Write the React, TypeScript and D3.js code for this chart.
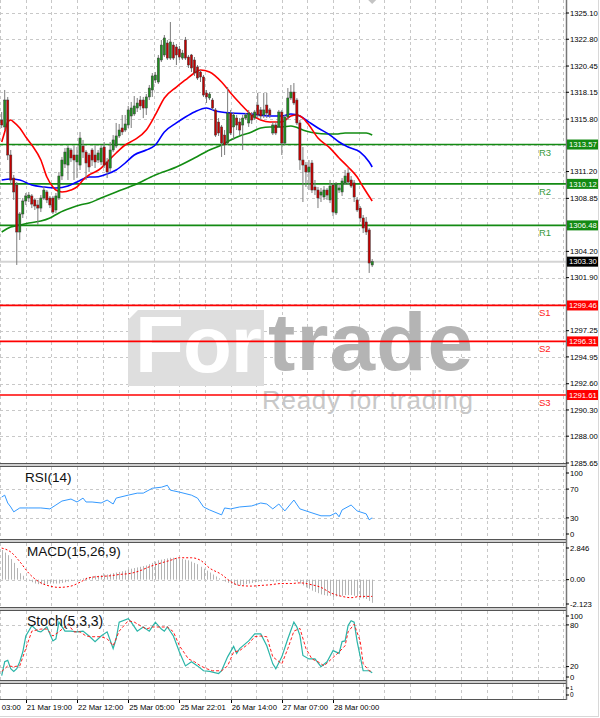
import React from 'react';
import * as d3 from 'd3';

const FONT = '"Liberation Sans", Arial, sans-serif';

// hourly bars: [open, high, low, close]
const candles: [number, number, number, number][] = [
  [1315.72, 1316.42, 1315.02, 1315.28], [1315.11, 1318.35, 1314.84, 1317.47], [1317.47, 1317.74, 1312.21, 1312.65],
  [1312.65, 1313.09, 1310.02, 1310.46], [1310.63, 1310.90, 1308.71, 1309.41], [1310.02, 1310.28, 1303.01, 1305.90],
  [1305.90, 1307.65, 1305.20, 1307.48], [1307.48, 1308.88, 1307.13, 1308.62], [1308.62, 1309.32, 1308.27, 1309.06],
  [1308.88, 1309.41, 1308.53, 1309.14], [1309.06, 1309.23, 1308.00, 1308.35], [1308.71, 1308.88, 1307.83, 1308.18],
  [1308.27, 1308.71, 1306.51, 1308.00], [1308.00, 1309.14, 1307.65, 1308.88], [1308.88, 1309.93, 1308.71, 1309.58],
  [1309.41, 1309.58, 1308.44, 1308.71], [1308.88, 1309.06, 1308.00, 1308.27], [1308.88, 1309.06, 1307.48, 1307.65],
  [1307.83, 1309.32, 1307.57, 1309.06], [1308.88, 1311.16, 1308.71, 1310.81], [1310.81, 1312.48, 1310.46, 1312.21],
  [1311.86, 1313.26, 1311.51, 1312.91], [1311.77, 1313.44, 1310.46, 1313.26], [1313.09, 1313.26, 1312.04, 1312.39],
  [1312.65, 1313.44, 1310.46, 1312.21], [1312.04, 1313.35, 1310.63, 1312.65], [1311.77, 1314.67, 1311.34, 1314.14],
  [1313.44, 1313.97, 1312.39, 1312.91], [1312.91, 1313.09, 1310.46, 1311.95], [1312.65, 1312.83, 1311.16, 1311.60],
  [1313.09, 1313.26, 1311.69, 1312.21], [1312.65, 1313.53, 1311.51, 1312.04], [1312.21, 1313.09, 1311.95, 1312.83],
  [1312.04, 1313.53, 1311.77, 1313.26], [1313.35, 1313.79, 1311.51, 1311.77], [1312.04, 1312.39, 1310.63, 1311.16],
  [1311.51, 1313.79, 1311.16, 1313.09], [1313.09, 1314.40, 1312.91, 1313.97], [1313.44, 1315.46, 1313.26, 1314.32],
  [1314.32, 1315.37, 1314.14, 1314.84], [1315.02, 1316.16, 1314.40, 1314.67], [1314.84, 1316.16, 1314.67, 1315.37],
  [1315.28, 1316.95, 1315.02, 1316.60], [1316.07, 1317.30, 1315.02, 1316.77], [1316.25, 1317.82, 1316.07, 1316.95],
  [1316.77, 1317.65, 1316.42, 1317.21], [1317.47, 1317.82, 1316.60, 1316.95], [1317.47, 1317.74, 1315.89, 1316.77],
  [1316.77, 1318.00, 1316.16, 1317.74], [1317.74, 1318.79, 1317.47, 1318.52], [1318.35, 1319.84, 1317.74, 1319.58],
  [1319.23, 1319.93, 1318.96, 1319.66], [1319.05, 1321.42, 1318.88, 1321.15], [1320.98, 1322.73, 1320.80, 1322.29],
  [1321.42, 1323.17, 1321.24, 1322.91], [1322.47, 1322.73, 1320.98, 1321.15], [1321.15, 1324.31, 1320.98, 1322.56],
  [1322.29, 1322.56, 1320.98, 1321.15], [1322.12, 1322.38, 1320.54, 1321.42], [1321.94, 1322.21, 1320.98, 1321.24],
  [1321.15, 1321.86, 1320.98, 1321.59], [1322.73, 1323.00, 1320.98, 1321.15], [1321.24, 1321.42, 1320.28, 1320.54],
  [1321.42, 1321.51, 1319.93, 1320.28], [1320.98, 1321.24, 1319.58, 1319.84], [1320.37, 1320.54, 1319.23, 1319.40],
  [1319.93, 1320.10, 1319.05, 1319.49], [1319.49, 1319.66, 1317.74, 1317.91], [1318.09, 1318.35, 1317.21, 1317.74],
  [1317.65, 1318.17, 1317.47, 1318.00], [1317.47, 1317.65, 1316.60, 1316.77], [1316.60, 1316.77, 1314.23, 1314.40],
  [1315.54, 1315.89, 1314.32, 1314.58], [1315.11, 1315.28, 1312.48, 1313.70], [1314.40, 1314.84, 1312.65, 1313.53],
  [1313.70, 1318.61, 1313.53, 1316.33], [1316.33, 1316.60, 1314.40, 1314.58], [1315.11, 1316.42, 1313.97, 1316.16],
  [1315.89, 1316.16, 1314.84, 1315.28], [1315.54, 1315.89, 1314.40, 1314.84], [1315.28, 1316.16, 1313.09, 1315.89],
  [1315.89, 1316.33, 1315.72, 1316.16], [1315.46, 1316.60, 1315.11, 1316.33], [1316.16, 1316.42, 1315.37, 1315.72],
  [1315.89, 1316.60, 1315.72, 1316.42], [1317.03, 1318.09, 1315.89, 1316.16], [1316.60, 1316.86, 1315.72, 1316.07],
  [1316.16, 1318.09, 1315.89, 1316.60], [1317.03, 1318.09, 1315.89, 1316.33], [1316.60, 1316.77, 1315.89, 1316.16],
  [1314.58, 1315.54, 1314.40, 1315.28], [1315.28, 1315.54, 1314.40, 1314.58], [1315.11, 1316.60, 1315.02, 1316.42],
  [1316.42, 1316.60, 1312.65, 1313.70], [1313.70, 1316.16, 1313.53, 1315.98], [1315.98, 1318.52, 1315.72, 1317.65],
  [1317.65, 1318.79, 1317.47, 1318.17], [1318.17, 1318.96, 1317.03, 1317.21], [1317.47, 1317.65, 1315.28, 1315.46],
  [1315.46, 1315.72, 1311.34, 1312.21], [1312.21, 1313.35, 1308.53, 1311.77], [1311.77, 1312.04, 1309.85, 1311.16],
  [1311.16, 1312.21, 1309.58, 1311.60], [1311.95, 1312.21, 1309.32, 1309.58], [1309.85, 1310.46, 1309.14, 1309.58],
  [1309.58, 1309.85, 1308.00, 1308.88], [1309.14, 1309.76, 1308.53, 1309.41], [1308.97, 1309.93, 1308.71, 1309.58],
  [1309.58, 1309.76, 1308.71, 1309.14], [1308.71, 1310.46, 1308.44, 1309.93], [1310.02, 1310.20, 1307.30, 1307.65],
  [1307.57, 1310.28, 1307.39, 1310.11], [1309.58, 1310.02, 1309.32, 1309.76], [1309.41, 1310.63, 1309.06, 1310.37],
  [1310.20, 1311.34, 1310.02, 1310.81], [1311.07, 1311.51, 1310.02, 1310.28], [1310.46, 1310.81, 1309.76, 1309.93],
  [1310.20, 1310.46, 1308.53, 1308.97], [1308.71, 1308.97, 1307.65, 1307.83], [1308.00, 1308.18, 1306.78, 1307.13],
  [1307.13, 1307.39, 1305.81, 1306.25], [1306.78, 1307.22, 1305.64, 1305.90], [1306.08, 1306.25, 1302.31, 1303.18],
  [1303.01, 1303.53, 1302.83, 1303.30],
];

// moving averages, read at [bar index, price]
const maFast: [number, number][] = [
  [0, 1313.79], [1, 1314.67], [2, 1315.54], [3, 1315.72], [4, 1315.54], [6, 1315.02], [8, 1314.23], [10, 1313.53],
  [13, 1312.21], [15, 1310.72], [17, 1309.85], [18, 1309.58], [20, 1309.41], [23, 1309.58], [25, 1309.85],
  [27, 1310.46], [29, 1310.90], [31, 1311.16], [33, 1311.51], [35, 1312.04], [38, 1312.83], [41, 1313.53],
  [44, 1313.97], [48, 1314.84], [51, 1316.16], [54, 1317.65], [58, 1318.61], [61, 1319.23], [64, 1319.84],
  [66, 1320.10], [69, 1319.93], [73, 1319.05], [76, 1318.09], [79, 1317.21], [83, 1316.16], [86, 1315.72],
  [89, 1315.54], [93, 1315.54], [96, 1316.07], [98, 1316.16], [100, 1315.89], [102, 1315.28], [105, 1314.14],
  [109, 1313.26], [112, 1312.39], [115, 1311.60], [118, 1310.72], [120, 1309.85], [123, 1308.62],
];
const maMid: [number, number][] = [
  [0, 1310.46], [3, 1310.55], [6, 1310.46], [10, 1310.02], [14, 1309.85], [18, 1309.76], [22, 1309.93],
  [25, 1310.28], [29, 1310.72], [31, 1310.72], [34, 1310.90], [38, 1311.34], [41, 1311.95], [44, 1312.65],
  [48, 1313.09], [51, 1313.53], [54, 1314.67], [58, 1315.46], [61, 1315.98], [64, 1316.42], [68, 1316.77],
  [71, 1316.51], [76, 1316.33], [83, 1316.25], [89, 1316.07], [93, 1316.07], [96, 1316.25], [99, 1316.07],
  [102, 1315.54], [105, 1315.02], [109, 1314.40], [112, 1313.79], [115, 1313.35], [119, 1312.91],
  [122, 1312.04], [123, 1311.60],
];
const maSlow: [number, number][] = [
  [0, 1305.90], [3, 1306.34], [6, 1306.51], [9, 1306.69], [13, 1306.86], [16, 1307.13], [19, 1307.57],
  [23, 1308.00], [26, 1308.27], [29, 1308.44], [33, 1308.88], [38, 1309.41], [44, 1310.02], [51, 1310.90],
  [58, 1311.60], [64, 1312.39], [69, 1313.09], [73, 1313.53], [76, 1313.97], [79, 1314.32], [83, 1314.67],
  [86, 1315.02], [89, 1315.11], [93, 1315.11], [96, 1315.19], [101, 1314.75], [104, 1314.58], [108, 1314.49],
  [111, 1314.49], [114, 1314.58], [118, 1314.58], [121, 1314.58], [123, 1314.40],
];

const pivotNames = ['R3', 'R2', 'R1', 'S1', 'S2', 'S3'];
const pivotValues = [1313.57, 1310.12, 1306.48, 1299.46, 1296.31, 1291.61];
const lastPrice = 1303.30;

const priceTicks = [
  1325.10, 1322.80, 1320.45, 1318.15, 1315.80, 1313.50, 1311.20, 1308.85, 1306.55,
  1304.20, 1301.90, 1299.55, 1297.25, 1294.95, 1292.60, 1290.30, 1288.00, 1285.65,
];

const timeIdx = [-9, 8, 25, 42, 59, 76, 93, 110];
const timeLabels = [
  '21 Mar 03:00', '21 Mar 19:00', '22 Mar 12:00', '25 Mar 05:00',
  '25 Mar 22:01', '26 Mar 14:00', '27 Mar 07:00', '28 Mar 00:00',
];

const rsi: [number, number][] = [
  [0, 58.9], [1, 61.6], [2, 50.7], [3, 45.2], [4, 38.4], [6, 43.8], [9, 43.8], [13, 43.8], [16, 42.5],
  [18, 47.9], [20, 53.4], [23, 56.2], [25, 52.1], [27, 57.5], [28, 52.1], [30, 52.1], [33, 50.7],
  [35, 54.8], [37, 49.3], [38, 57.5], [42, 61.6], [45, 64.4], [47, 64.4], [50, 71.2], [53, 72.6],
  [55, 75.3], [56, 68.5], [59, 65.8], [63, 61.6], [65, 57.5], [67, 45.2], [69, 41.1], [73, 34.2],
  [74, 43.8], [76, 42.5], [79, 45.2], [83, 46.6], [86, 50.7], [88, 49.3], [90, 42.5], [92, 49.3],
  [94, 39.7], [97, 54.8], [99, 42.5], [103, 37.0], [106, 32.9], [109, 32.9], [111, 37.0], [112, 31.5],
  [113, 41.1], [116, 47.9], [118, 39.7], [121, 35.6], [122, 27.4], [123, 30.1],
];

const macd = [
  2.3, 2.1, 1.9, 1.6, 1.3, 0.9, 0.5, 0.3, 0.1, -0.1,
  -0.2, -0.3, -0.35, -0.35, -0.35, -0.35, -0.3, -0.3, -0.3, -0.3,
  -0.25, -0.2, -0.15, -0.1, -0.05, 0, 0.05, 0.1, 0.15, 0.2,
  0.25, 0.3, 0.3, 0.35, 0.4, 0.4, 0.45, 0.5, 0.55, 0.6,
  0.65, 0.7, 0.8, 0.85, 0.9, 0.95, 1.0, 1.05, 1.1, 1.2,
  1.3, 1.4, 1.5, 1.55, 1.6, 1.65, 1.7, 1.7, 1.7, 1.65,
  1.6, 1.55, 1.5, 1.4, 1.3, 1.2, 1.0, 0.85, 0.7, 0.55,
  0.4, 0.25, 0.1, 0, -0.15, -0.25, -0.35, -0.4, -0.45, -0.45,
  -0.4, -0.35, -0.3, -0.25, -0.2, -0.15, -0.15, -0.1, -0.1, -0.1,
  -0.15, -0.15, -0.1, -0.15, -0.1, -0.05, 0, -0.05, -0.15, -0.3,
  -0.45, -0.6, -0.7, -0.85, -0.95, -1.05, -1.15, -1.2, -1.25, -1.25,
  -1.35, -1.3, -1.3, -1.25, -1.2, -1.2, -1.2, -1.25, -1.3, -1.4,
  -1.45, -1.5, -1.65, -1.8,
];
const macdSignal: [number, number][] = [
  [0, 2.45], [3, 2.15], [6, 1.4], [9, 0.5], [13, -0.25], [16, -0.5], [19, -0.6], [23, -0.5], [26, -0.2],
  [29, 0.15], [33, 0.25], [36, 0.3], [39, 0.4], [43, 0.5], [46, 0.7], [49, 1.0], [53, 1.3], [56, 1.5],
  [59, 1.7], [63, 1.7], [66, 1.5], [69, 0.9], [73, 0.4], [76, -0.15], [79, -0.45], [83, -0.5], [86, -0.45],
  [89, -0.4], [93, -0.3], [96, -0.3], [99, -0.25], [103, -0.4], [106, -0.6], [109, -1.0], [113, -1.3],
  [116, -1.4], [119, -1.3], [123, -1.3],
];

const stochMain: [number, number][] = [
  [0, 7], [1, 27], [2, 29], [3, 17], [4, 13], [5, 17], [6, 27], [7, 41], [8, 64], [10, 79], [12, 71],
  [13, 70], [15, 77], [17, 57], [18, 60], [19, 84], [21, 71], [23, 71], [25, 70], [27, 71], [29, 64],
  [31, 56], [33, 64], [35, 70], [37, 46], [38, 60], [39, 84], [42, 89], [43, 84], [45, 71], [47, 77],
  [49, 71], [51, 84], [53, 74], [54, 71], [55, 77], [57, 64], [59, 41], [61, 21], [63, 27], [65, 21],
  [67, 14], [69, 13], [72, 10], [73, 14], [75, 34], [77, 49], [78, 39], [79, 46], [82, 57], [84, 67],
  [86, 67], [88, 50], [90, 24], [91, 17], [93, 34], [95, 60], [97, 84], [98, 77], [99, 65], [100, 36],
  [102, 31], [104, 31], [106, 20], [108, 27], [110, 43], [112, 39], [113, 56], [114, 57], [115, 79],
  [116, 86], [117, 84], [118, 56], [120, 14], [122, 14], [123, 11],
];
const stochSignal: [number, number][] = [
  [0, 13], [2, 21], [4, 20], [6, 21], [8, 46], [10, 71], [13, 74], [15, 74], [17, 64], [19, 70], [22, 81],
  [24, 70], [26, 70], [28, 64], [30, 63], [33, 63], [35, 60], [37, 50], [39, 71], [42, 86], [44, 84],
  [46, 79], [48, 74], [50, 77], [53, 77], [55, 77], [57, 70], [59, 50], [62, 31], [64, 27], [66, 21],
  [68, 17], [70, 14], [73, 14], [75, 21], [77, 41], [79, 43], [82, 53], [84, 63], [86, 64], [88, 63],
  [90, 34], [93, 24], [95, 46], [97, 71], [99, 75], [101, 46], [103, 31], [105, 27], [107, 21], [109, 29],
  [112, 41], [114, 50], [115, 70], [117, 81], [119, 57], [120, 24], [122, 14], [123, 13],
];

const AXIS_X = 566;
const GRID = '#c8c8c8';

export default function App() {
  const x = d3.scaleLinear().domain([0, candles.length - 1]).range([1.7, 372.2]);
  const y = d3.scaleLinear().domain([1285.65, 1325.10]).range([463, 13]);
  const yRsi = d3.scaleLinear().domain([0, 100]).range([539.5, 467.5]);
  const yMacd = d3.scaleLinear().domain([-2.123, 2.846]).range([607, 543]);
  const ySto = d3.scaleLinear().domain([0, 100]).range([680.5, 611]);

  const maLine = d3.line<[number, number]>().x(d => x(d[0])).y(d => y(d[1])).curve(d3.curveMonotoneX);
  const rsiLine = d3.line<[number, number]>().x(d => x(d[0])).y(d => yRsi(d[1]));
  const sigLine = d3.line<[number, number]>().x(d => x(d[0])).y(d => yMacd(d[1])).curve(d3.curveMonotoneX);
  const stoLine = d3.line<[number, number]>().x(d => x(d[0])).y(d => ySto(d[1]));

  const gridIdx = d3.range(-0.5, 200, 8.5).filter(i => x(i) >= 0 && x(i) < AXIS_X - 2);
  const panels: [number, number][] = [[0, 463], [467, 539], [543, 607], [611, 680], [684, 699]];

  const boxes = [...pivotValues, lastPrice];
  const shownTicks = priceTicks.filter(t => boxes.every(b => Math.abs(y(t) - y(b)) > 7));

  const sep = (top: number, key: string) => (
    <g key={key}>
      <rect x={0} y={top} width={AXIS_X} height={3} fill="#d0d0d0" />
      <line x1={0} x2={AXIS_X} y1={top} y2={top} stroke="#555" strokeWidth={1} />
      <line x1={0} x2={AXIS_X} y1={top + 3} y2={top + 3} stroke="#555" strokeWidth={1} />
    </g>
  );

  const axisText = (ty: number, label: string, key: string, size = 7.7) => (
    <g key={key}>
      <line x1={AXIS_X} x2={AXIS_X + 3} y1={ty} y2={ty} stroke="#000" />
      <text x={AXIS_X + 4} y={ty} dy="0.35em" fontSize={size} fontFamily={FONT} fill="#000">{label}</text>
    </g>
  );

  const box = (value: number, fill: string, key: string) => (
    <g key={key}>
      <rect x={AXIS_X + 1} y={y(value) - 5} width={31} height={10} fill={fill} />
      <text x={AXIS_X + 3} y={y(value)} dy="0.35em" fontSize={7.7} fontFamily={FONT} fill="#fff">{value.toFixed(2)}</text>
    </g>
  );

  return (
    <svg width={600} height={718} style={{ position: 'absolute', left: 0, top: 0, background: '#fff' }}>
      <defs>
        <clipPath id="plot"><rect x={0} y={0} width={AXIS_X} height={463} /></clipPath>
      </defs>

      {/* grid */}
      <g stroke={GRID} strokeDasharray="3,3" strokeWidth={1}>
        {panels.map(([a, b], pi) => gridIdx.map(i => (
          <line key={`v${pi}-${i}`} x1={Math.round(x(i)) + 0.5} x2={Math.round(x(i)) + 0.5} y1={a} y2={b} />
        )))}
        {priceTicks.map(t => (
          <line key={`h${t}`} x1={0} x2={AXIS_X} y1={Math.round(y(t)) + 0.5} y2={Math.round(y(t)) + 0.5} />
        ))}
        {[70, 30].map(v => <line key={`r${v}`} x1={0} x2={AXIS_X} y1={Math.round(yRsi(v)) + 0.5} y2={Math.round(yRsi(v)) + 0.5} />)}
        <line x1={0} x2={AXIS_X} y1={Math.round(yMacd(0)) + 0.5} y2={Math.round(yMacd(0)) + 0.5} />
        {[80, 20].map(v => <line key={`s${v}`} x1={0} x2={AXIS_X} y1={Math.round(ySto(v)) + 0.5} y2={Math.round(ySto(v)) + 0.5} />)}
      </g>

      {/* watermark */}
      <g>
        <path d="M128,320 L138,310 L264,310 L264,386 L128,386 Z" fill="#dedede" />
        <text x={135} y={372} fontSize={80} fontWeight="bold" fontFamily={FONT} fill="#fff" textLength={127}>For</text>
        <text x={268} y={370} fontSize={82} fontWeight="bold" fontFamily={FONT} fill="#b4b4b4" textLength={205}>trade</text>
        <text x={262} y={409} fontSize={26} fontFamily={FONT} fill="#c8c8c8" textLength={211}>Ready for trading</text>
      </g>

      <g clipPath="url(#plot)">
        {/* bid line */}
        <line x1={0} x2={AXIS_X} y1={y(lastPrice)} y2={y(lastPrice)} stroke="#d4d4d4" strokeWidth={2} />

        {/* pivot levels */}
        {pivotValues.map((v, k) => (
          <line key={pivotNames[k]} x1={0} x2={AXIS_X} y1={y(v)} y2={y(v)}
            stroke={pivotNames[k][0] === 'R' ? '#138a13' : '#ff0000'} strokeWidth={1.7} />
        ))}

        {/* moving averages */}
        <path d={maLine(maSlow) || ''} fill="none" stroke="#128c12" strokeWidth={1.6} />
        <path d={maLine(maMid) || ''} fill="none" stroke="#0000ff" strokeWidth={1.6} />
        <path d={maLine(maFast) || ''} fill="none" stroke="#ff0000" strokeWidth={1.6} />

        {/* candles */}
        {candles.map(([o, h, l, c], i) => {
          const cx = x(i);
          const top = y(Math.max(o, c));
          const bot = y(Math.min(o, c));
          return (
            <g key={`c${i}`}>
              <line x1={cx} x2={cx} y1={y(h)} y2={y(l)} stroke="#7c7c7c" strokeWidth={1} />
              <rect x={cx - 1.1} y={top} width={2.2} height={Math.max(bot - top, 0.8)}
                fill={c >= o ? '#1f8f1f' : '#c40000'} stroke="#3a3a3a" strokeWidth={0.5} />
            </g>
          );
        })}
      </g>

      {/* pivot names */}
      {pivotValues.map((v, k) => (
        <text key={`n${k}`} x={539} y={y(v) + 11} fontSize={9.5} fontFamily={FONT}
          fill={pivotNames[k][0] === 'R' ? '#3a9a3a' : '#ff2020'}>{pivotNames[k]}</text>
      ))}

      {/* chart shift marker */}
      <path d={`M${x(123) - 4},0 L${x(123) + 4},0 L${x(123)},4 Z`} fill="#c4c4c4" />

      {/* RSI */}
      <path d={rsiLine(rsi) || ''} fill="none" stroke="#3399ff" strokeWidth={1} />
      <text x={25} y={482} fontSize={13.5} fontFamily={FONT} fill="#111">RSI(14)</text>

      {/* MACD */}
      {macd.map((v, i) => (
        <line key={`m${i}`} x1={Math.round(x(i)) + 0.5} x2={Math.round(x(i)) + 0.5}
          y1={yMacd(0)} y2={yMacd(v)} stroke="#b4b4b4" strokeWidth={1} />
      ))}
      <path d={sigLine(macdSignal) || ''} fill="none" stroke="#ff0000" strokeWidth={1} strokeDasharray="2,2" />
      <text x={27} y={556} fontSize={13.5} fontFamily={FONT} fill="#111">MACD(15,26,9)</text>

      {/* Stochastic */}
      <path d={stoLine(stochMain) || ''} fill="none" stroke="#2ab5a8" strokeWidth={1.2} />
      <path d={stoLine(stochSignal) || ''} fill="none" stroke="#ff2020" strokeWidth={1} strokeDasharray="3,2" />
      <text x={27} y={626} fontSize={14} fontFamily={FONT} fill="#111">Stoch(5,3,3)</text>

      {/* panel separators */}
      {sep(463.5, 's1')}
      {sep(539.5, 's2')}
      {sep(607.5, 's3')}
      {sep(680.5, 's4')}
      <line x1={0} x2={AXIS_X} y1={699.5} y2={699.5} stroke="#555" />

      {/* right axis */}
      <line x1={AXIS_X + 0.5} x2={AXIS_X + 0.5} y1={0} y2={700} stroke="#777" strokeWidth={1.5} />
      {shownTicks.map(t => axisText(y(t), t.toFixed(2), `p${t}`))}
      {pivotValues.map((v, k) => box(v, pivotNames[k][0] === 'R' ? '#138a13' : '#ff0000', `b${k}`))}
      {box(lastPrice, '#000', 'last')}

      {[100, 70, 30, 0].map(v => axisText(Math.min(Math.max(yRsi(v), 473), 534), String(v), `ra${v}`))}
      {axisText(548, '2.846', 'ma1')}
      {axisText(yMacd(0), '0.00', 'ma2')}
      {axisText(604, '-2.123', 'ma3')}
      {[100, 80, 20, 0].map(v => axisText(Math.min(Math.max(ySto(v), 616), 677), String(v), `sa${v}`))}
      {axisText(688, '1', 'e1', 5.5)}
      {axisText(695, '0', 'e0', 6.5)}

      {/* time axis */}
      {timeIdx.map((i, k) => (
        <g key={`t${k}`}>
          <line x1={Math.round(x(i)) + 0.5} x2={Math.round(x(i)) + 0.5} y1={700} y2={703} stroke="#000" />
          <text x={x(i) + 1} y={710} fontSize={7.7} fontFamily={FONT} fill="#000">{timeLabels[k]}</text>
        </g>
      ))}

      {/* frame */}
      <line x1={598.5} x2={598.5} y1={0} y2={717} stroke="#d8d8d8" />
      <line x1={0} x2={599} y1={716.5} y2={716.5} stroke="#d8d8d8" />
    </svg>
  );
}
